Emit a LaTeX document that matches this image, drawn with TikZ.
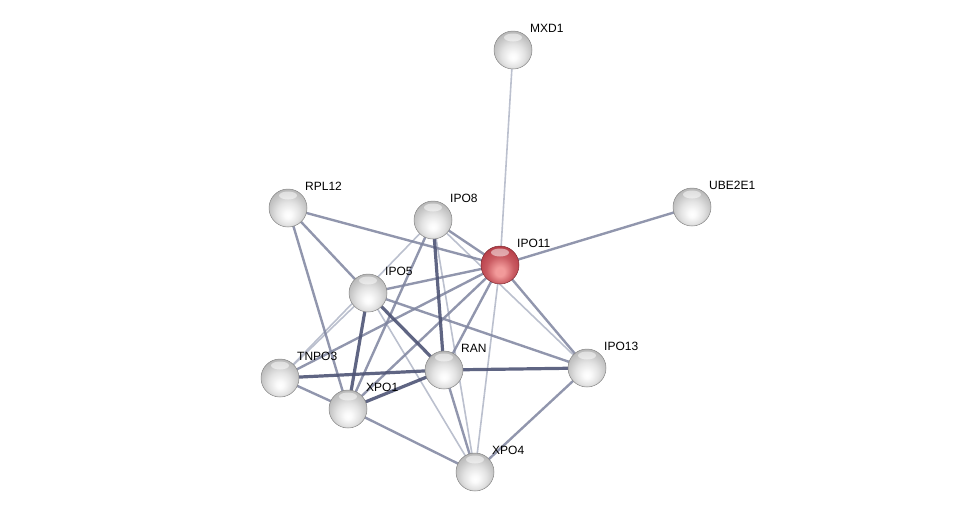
\documentclass[tikz,border=0pt]{standalone}
\usepackage{fontspec}
\setmainfont{Liberation Sans}
\pgfdeclarelayer{background}
\pgfsetlayers{background,main}
\definecolor{edgedark}{HTML}{4E5475}
\definecolor{edgemid}{HTML}{7E849F}
\definecolor{edgelight}{HTML}{B4B9C9}
\definecolor{ballrim}{HTML}{858585}
\definecolor{redtop}{HTML}{B8404A}
\definecolor{redlow}{HTML}{F29A9A}
\pgfdeclareradialshading{stringball}{\pgfpoint{0bp}{-10bp}}{color(0bp)=(white); color(5bp)=(gray!4); color(15bp)=(gray!22); color(24bp)=(gray!45); color(32bp)=(gray!62); color(50bp)=(gray!70)}
\pgfdeclareradialshading{stringred}{\pgfpoint{0bp}{-10bp}}{color(0bp)=(redlow); color(6bp)=(redlow); color(18bp)=(redtop!70!redlow); color(28bp)=(redtop); color(34bp)=(redtop!80!black); color(50bp)=(redtop!80!black)}
\tikzset{
  prot/.style={circle, minimum size=38pt, inner sep=0pt, shading=stringball, draw=ballrim, line width=0.5pt,
    path picture={\fill[white,opacity=0.5] ([yshift=-6.5pt]path picture bounding box.north) ellipse [x radius=9pt, y radius=4pt];}},
  seed/.style={prot, shading=stringred, draw=redtop!70!black},
  lbl/.style={anchor=west, inner sep=0pt, font=\fontsize{12}{14}\selectfont},
  ethick/.style={draw=edgedark, line width=3.2pt, opacity=0.9},
  emid/.style={draw=edgemid, line width=2.4pt, opacity=0.85},
  ethin/.style={draw=edgelight, line width=1.6pt, opacity=0.9},
}
\begin{document}
\begin{tikzpicture}[x=1pt,y=-1pt]
\useasboundingbox (0,0) rectangle (976,517);
\node[prot] (MXD1) at (513,50) {};
\node[prot] (UBE2E1) at (692,207) {};
\node[prot] (RPL12) at (288,208) {};
\node[prot] (IPO8) at (433,220) {};
\node[seed] (IPO11) at (500,265) {};
\node[prot] (IPO5) at (368,293) {};
\node[prot] (TNPO3) at (280,378) {};
\node[prot] (RAN) at (444,370) {};
\node[prot] (IPO13) at (587,368) {};
\node[prot] (XPO1) at (348,409) {};
\node[prot] (XPO4) at (475,472) {};
\begin{pgfonlayer}{background}
% thin light
\draw[ethin] (IPO11.center) -- (MXD1.center);
\draw[ethin] (IPO11.center) -- (XPO4.center);
\draw[ethin] (IPO8.center) -- (XPO4.center);
\draw[ethin] (IPO5.center) -- (XPO4.center);
\draw[ethin] (IPO8.center) -- (TNPO3.center);
\draw[ethin] (IPO5.center) -- (TNPO3.center);
\draw[ethin] (IPO8.center) -- (IPO13.center);
% medium
\draw[emid] (IPO11.center) -- (RPL12.center);
\draw[emid] (IPO11.center) -- (UBE2E1.center);
\draw[emid] (IPO11.center) -- (IPO5.center);
\draw[emid] (IPO11.center) -- (RAN.center);
\draw[emid] (IPO11.center) -- (IPO13.center);
\draw[emid] (IPO11.center) -- (TNPO3.center);
\draw[emid] (IPO11.center) -- (XPO1.center);
\draw[emid] (IPO11.center) -- (IPO8.center);
\draw[emid] (RPL12.center) -- (IPO5.center);
\draw[emid] (RPL12.center) -- (XPO1.center);
\draw[emid] (TNPO3.center) -- (XPO1.center);
\draw[emid] (XPO1.center) -- (XPO4.center);
\draw[emid] (RAN.center) -- (XPO4.center);
\draw[emid] (IPO13.center) -- (XPO4.center);
\draw[emid] (IPO5.center) -- (IPO13.center);
\draw[emid] (IPO8.center) -- (XPO1.center);
% thick dark
\draw[ethick] (IPO5.center) -- (RAN.center);
\draw[ethick] (IPO8.center) -- (RAN.center);
\draw[ethick] (TNPO3.center) -- (RAN.center);
\draw[ethick] (XPO1.center) -- (RAN.center);
\draw[ethick] (RAN.center) -- (IPO13.center);
\draw[ethick] (IPO5.center) -- (XPO1.center);
\end{pgfonlayer}
\node[lbl] (lMXD1) at (530,28) {MXD1};
\node[lbl] (lUBE2E1) at (709,185) {UBE2E1};
\node[lbl] (lRPL12) at (305,186) {RPL12};
\node[lbl] (lIPO8) at (450,198) {IPO8};
\node[lbl] (lIPO11) at (517,243) {IPO11};
\node[lbl] (lIPO5) at (385,271) {IPO5};
\node[lbl] (lTNPO3) at (297,356) {TNPO3};
\node[lbl] (lRAN) at (461,348) {RAN};
\node[lbl] (lIPO13) at (604,346) {IPO13};
\node[lbl] (lXPO1) at (366,387) {XPO1};
\node[lbl] (lXPO4) at (492,450) {XPO4};
\end{tikzpicture}
\end{document}
